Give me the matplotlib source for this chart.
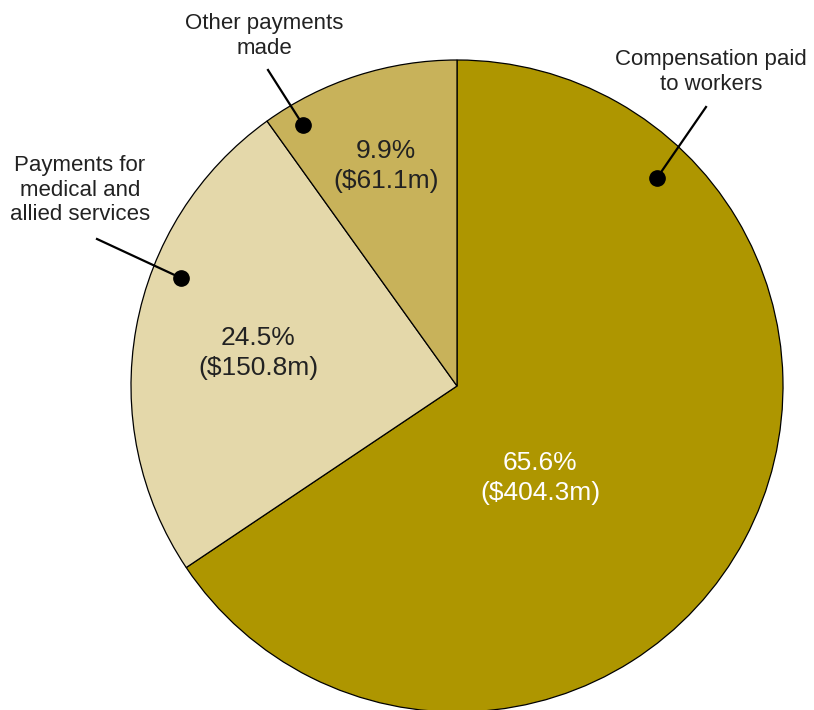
import matplotlib.pyplot as plt

# data
categories = ['Compensation paid\nto workers', 'Payments for\nmedical and\nallied services', 'Other payments\nmade']
shares = [65.6, 24.5, 9.9]
amounts = [404.3, 150.8, 61.1]
colors = ['#AE9600', '#E4D8AA', '#C8B25A']
text_colors = ['white', '#222222', '#222222']

plt.rcParams['font.family'] = ['Liberation Sans', 'DejaVu Sans']

fig = plt.figure(figsize=(8.14, 7.10), dpi=100)
ax = fig.add_axes([0, 0, 1, 1])

H = 710
cx, cy, r = 457, H - 386, 326

ax.pie(shares, colors=colors, startangle=90, counterclock=False,
       center=(cx, cy), radius=r, frame=True,
       wedgeprops=dict(edgecolor='black', linewidth=0.9))
ax.set_xlim(0, 814)
ax.set_ylim(0, 710)
ax.set_aspect('equal')
ax.axis('off')

# inner labels (pixel positions, y from top)
inner_pos = [(540, 478), (258, 353), (386, 166)]
for (x, y), s, a, c in zip(inner_pos, shares, amounts, text_colors):
    ax.text(x, H - y, f'{s}%\n(${a}m)', ha='center', va='center',
            fontsize=19, color=c, linespacing=1.35)

# outer labels with leader lines and dots
label_pos = [(711, 72), (80, 190), (264, 36)]
line_start = [(706, 107), (97, 239), (268, 70)]
dot_pos = [(657, 178), (181, 278), (303, 125)]
for cat, (lx, ly), (sx, sy), (dx, dy) in zip(categories, label_pos, line_start, dot_pos):
    ax.text(lx, H - ly, cat, ha='center', va='center', fontsize=16,
            color='#222222', linespacing=1.25)
    ax.plot([sx, dx], [H - sy, H - dy], color='black', lw=1.6, zorder=5)
    ax.plot(dx, H - dy, 'o', color='black', markersize=11, zorder=6)

fig.savefig('out.png', dpi=100)
